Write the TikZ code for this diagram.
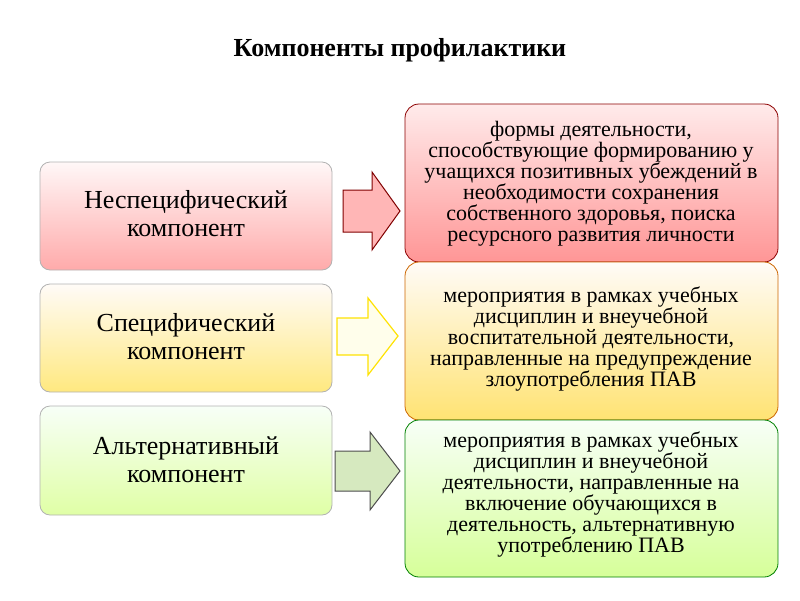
\documentclass[tikz,border=0pt]{standalone}
\usepackage{fontspec}
\setmainfont{Liberation Serif}
\begin{document}
\begin{tikzpicture}[x=1pt,y=-1pt,
  lbox/.style={rounded corners=10pt,draw=gray!60,line width=0.8pt},
  rbox/.style={rounded corners=14pt,line width=0.8pt},
  ltext/.style={align=center,font=\fontsize{26}{28}\selectfont},
  rtext/.style={align=center,font=\fontsize{22}{21}\selectfont},
  ]
\useasboundingbox (0,0) rectangle (800,600);
\node (title) at (400,50) {\fontsize{26}{28}\selectfont\bfseries Компоненты профилактики};
% left boxes
\shade[lbox,top color=red!3,bottom color=red!30!pink!70] (40,162) rectangle (332,270);
\node[ltext] (l1) at (186,214) {Неспецифический\\компонент};
\shade[lbox,top color=orange!3,bottom color=orange!35!yellow!50] (40,284) rectangle (332,392);
\node[ltext] (l2) at (186,337) {Специфический\\компонент};
\shade[lbox,top color=green!3,bottom color=green!35!yellow!35] (40,406) rectangle (332,515);
\node[ltext] (l3) at (186,460) {Альтернативный\\компонент};
% arrows
\draw[fill=red!30!pink!60,draw=red!50!black,line width=1pt] (343,190)--(372,190)--(372,172)--(400,211)--(372,250)--(372,232)--(343,232)--cycle;
\draw[fill=yellow!8,draw=yellow!85!orange,line width=1.2pt] (337,318)--(368,318)--(368,298)--(398,336)--(368,375)--(368,355)--(337,355)--cycle;
\draw[fill=green!30!olive!25,draw=gray!60!black,line width=1pt] (335,451)--(370,451)--(370,432)--(400,471)--(370,510)--(370,491)--(335,491)--cycle;
% right boxes
\shade[rbox,draw=red!55!black,top color=red!8!white,bottom color=red!40!pink!75] (405,104) rectangle (778,262);
\node[rtext] (r1) at (591,184) {формы деятельности,\\способствующие формированию у\\учащихся позитивных убеждений в\\необходимости сохранения\\собственного здоровья, поиска\\ресурсного развития личности};
\shade[rbox,draw=orange!80!black,top color=orange!3,bottom color=orange!40!yellow!55] (405,262) rectangle (778,420);
\node[rtext] (r2) at (591,339) {мероприятия в рамках учебных\\дисциплин и внеучебной\\воспитательной деятельности,\\направленные на предупреждение\\злоупотребления ПАВ};
\shade[rbox,draw=green!50!black,top color=green!3,bottom color=green!40!yellow!40] (405,420) rectangle (778,577);
\node[rtext] (r3) at (591,494) {мероприятия в рамках учебных\\дисциплин и внеучебной\\деятельности, направленные на\\включение обучающихся в\\деятельность, альтернативную\\употреблению ПАВ};
\end{tikzpicture}
\end{document}
